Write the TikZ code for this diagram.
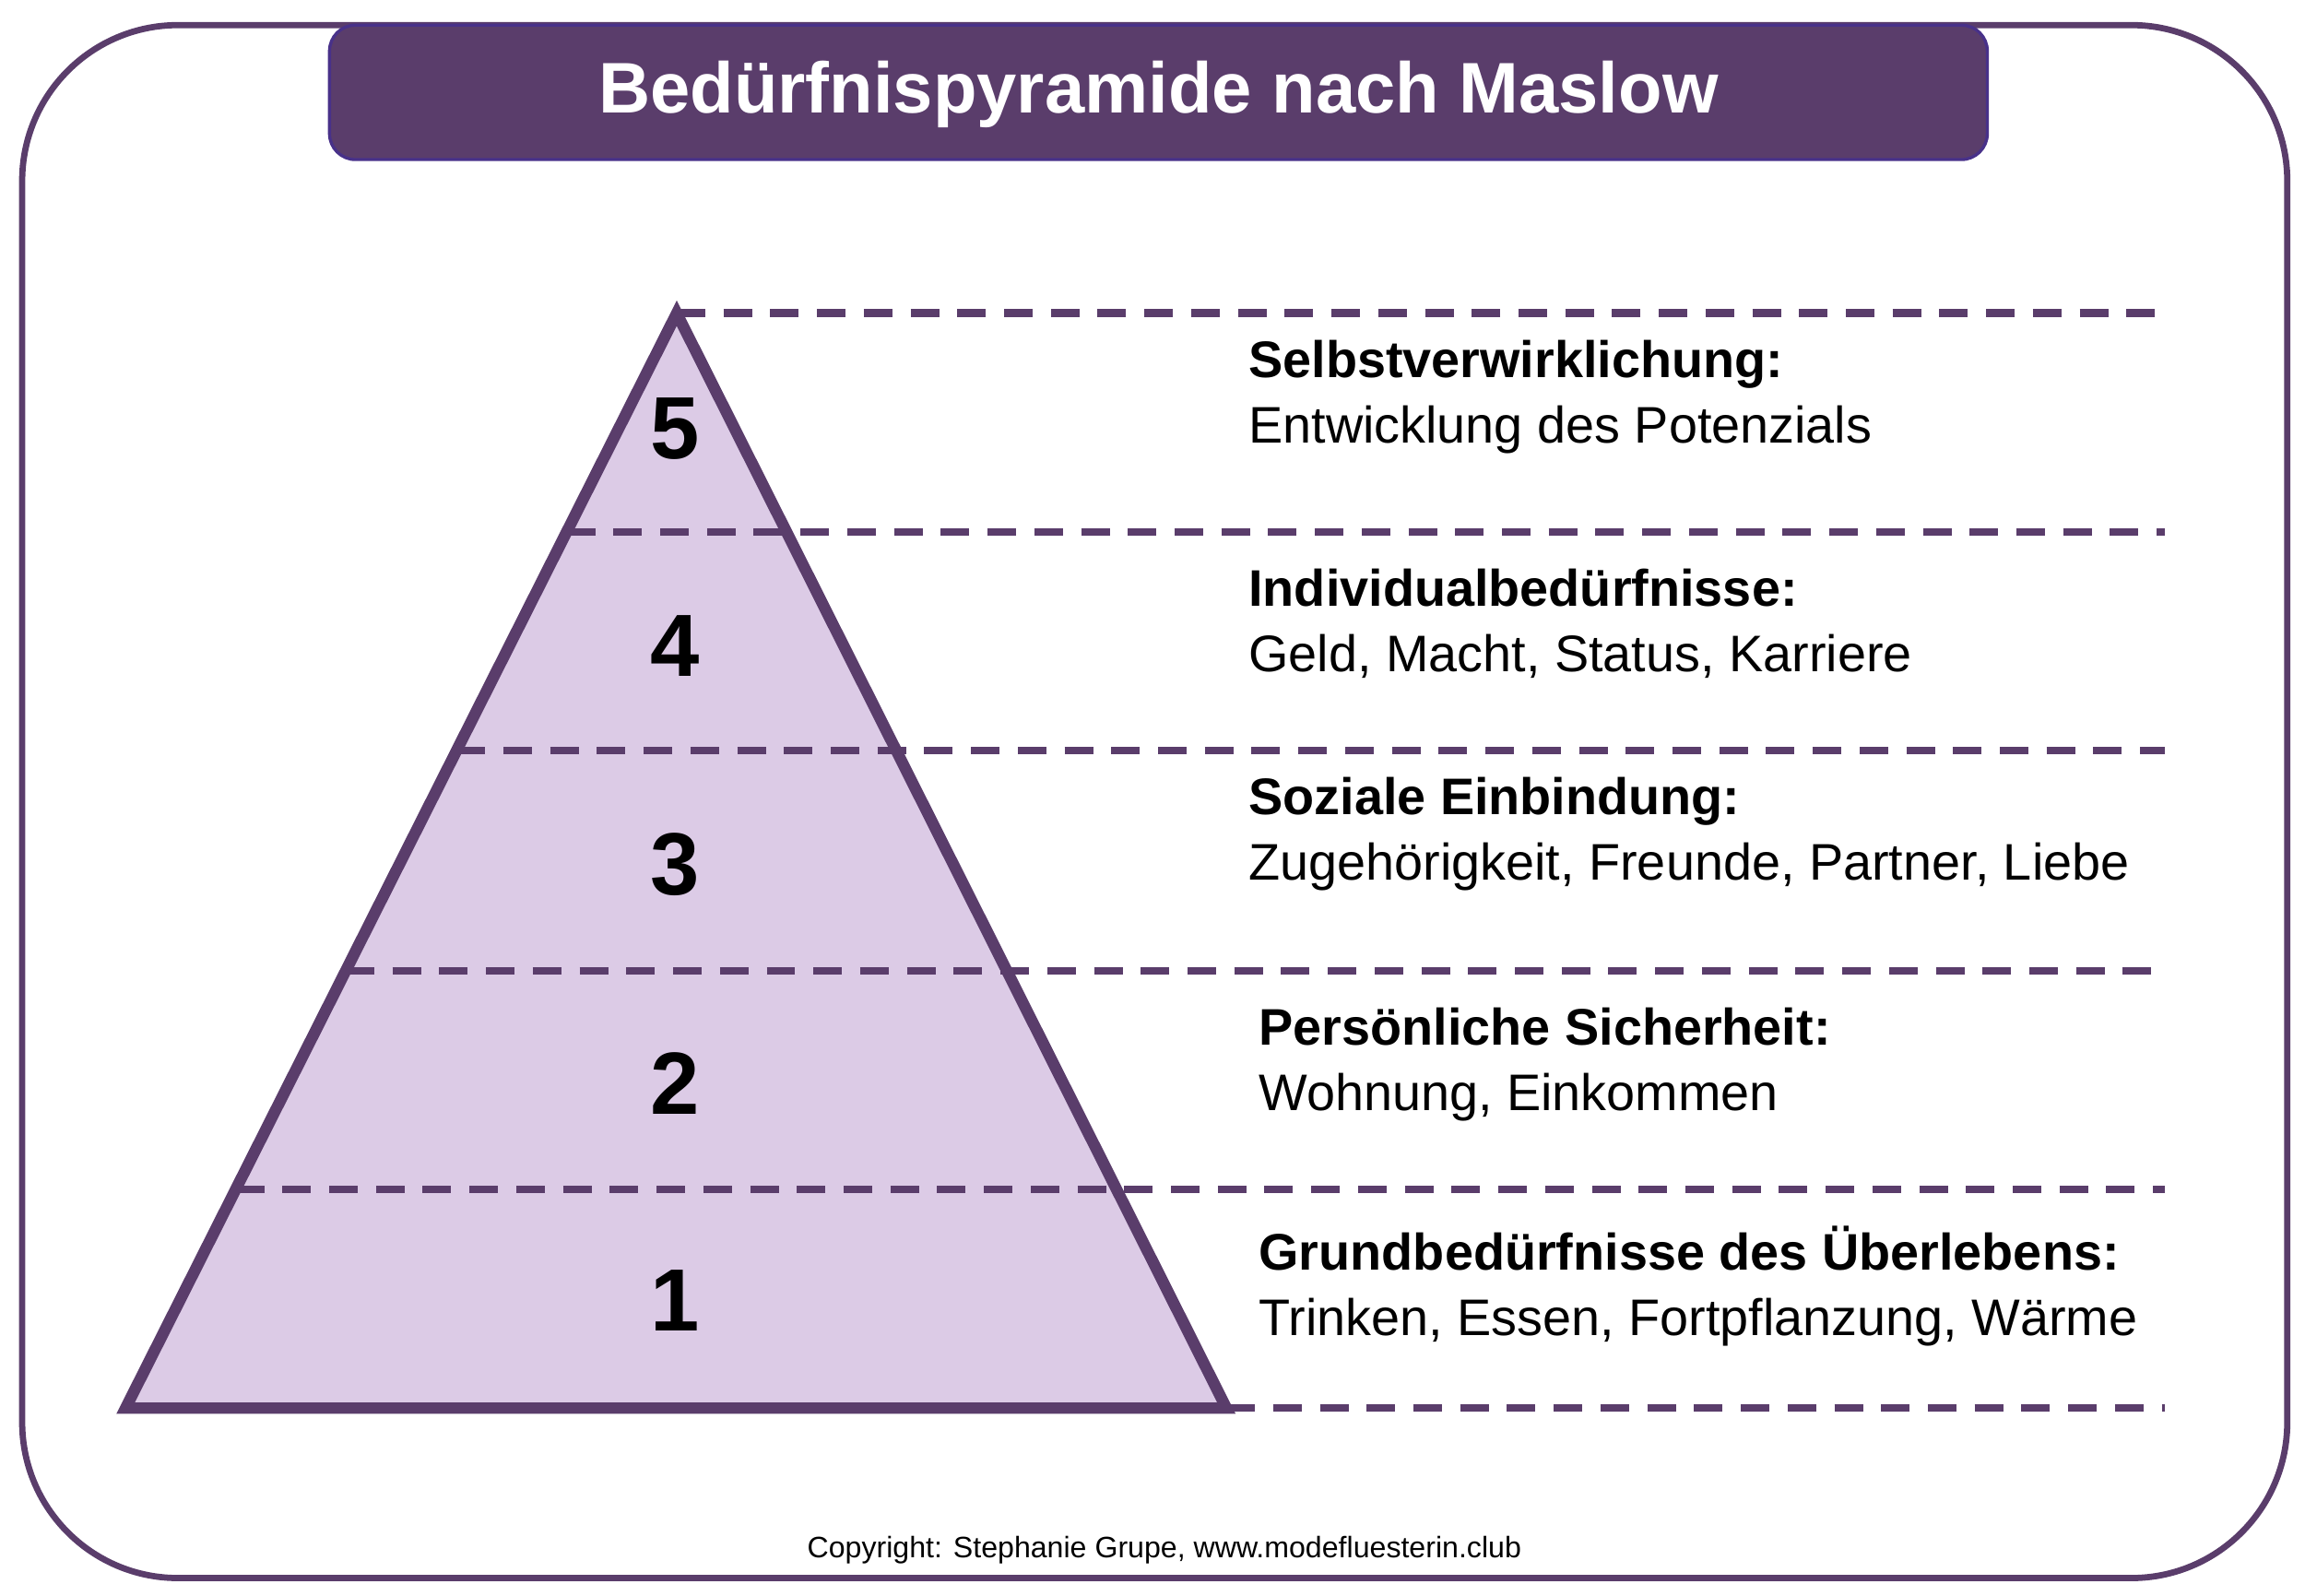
\documentclass[tikz,border=0pt]{standalone}
\usepackage{fontspec}
\setmainfont{Liberation Sans}
\definecolor{maslowdark}{HTML}{5A3D6B}
\definecolor{maslowlight}{HTML}{DCCBE6}
\begin{document}
\begin{tikzpicture}[x=0.01cm, y=-0.01cm, line width=1.2pt,
    levelline/.style={dashed, dash pattern=on 5.5pt off 3.5pt, line width=1.5pt, color=maslowdark},
    levelnum/.style={font=\fontsize{17}{17}\selectfont\bfseries},
    leveltext/.style={anchor=north west, align=left, inner sep=0pt, font=\fontsize{9.9}{12.6}\selectfont}]
\useasboundingbox (0,0) rectangle (1560,1080);

% frame and title
\draw[color=maslowdark, rounded corners=30pt] (15,17) rectangle (1548,1068);
\draw[fill=maslowdark, draw=maslowdark!80!blue, line width=.6pt, rounded corners=5pt] (223,17) rectangle (1345,108);
\node[text=white, font=\fontsize{13.8}{13.8}\selectfont\bfseries] (title) at (784,64) {Bedürfnispyramide nach Maslow};

% pyramid
\fill[maslowlight] (458,212) -- (830,953) -- (85,953) -- cycle;

% levels: dashed lines across the pyramid
\draw[levelline] (458,212) -- (1465,212);
\foreach \y in {360,508,657,805} {
    \draw[levelline] ({458-(\y-212)/741*373},\y) -- (1465,\y);
}
\draw[levelline] (830,953) -- (1465,953);

\draw[draw=maslowdark, line width=2.2pt, line join=miter] (458,212) -- (830,953) -- (85,953) -- cycle;

\foreach \n/\y in {5/290,4/437,3/585,2/733,1/880}
    \node[levelnum] (num\n) at (457,\y) {\n};

% texts
\node[leveltext] (lab5) at (843,228) {\textbf{Selbstverwirklichung:}\\Entwicklung des Potenzials};
\node[leveltext] (lab4) at (843,383) {\textbf{Individualbedürfnisse:}\\Geld, Macht, Status, Karriere};
\node[leveltext] (lab3) at (843,524) {\textbf{Soziale Einbindung:}\\Zugehörigkeit, Freunde, Partner, Liebe};
\node[leveltext] (lab2) at (850,680) {\textbf{Persönliche Sicherheit:}\\Wohnung, Einkommen};
\node[leveltext] (lab1) at (850,828) {\textbf{Grundbedürfnisse des Überlebens:}\\Trinken, Essen, Fortpflanzung, Wärme};

\node[font=\fontsize{5.7}{5.7}\selectfont] (copy) at (788,1049) {Copyright: Stephanie Grupe, www.modefluesterin.club};
\end{tikzpicture}
\end{document}
